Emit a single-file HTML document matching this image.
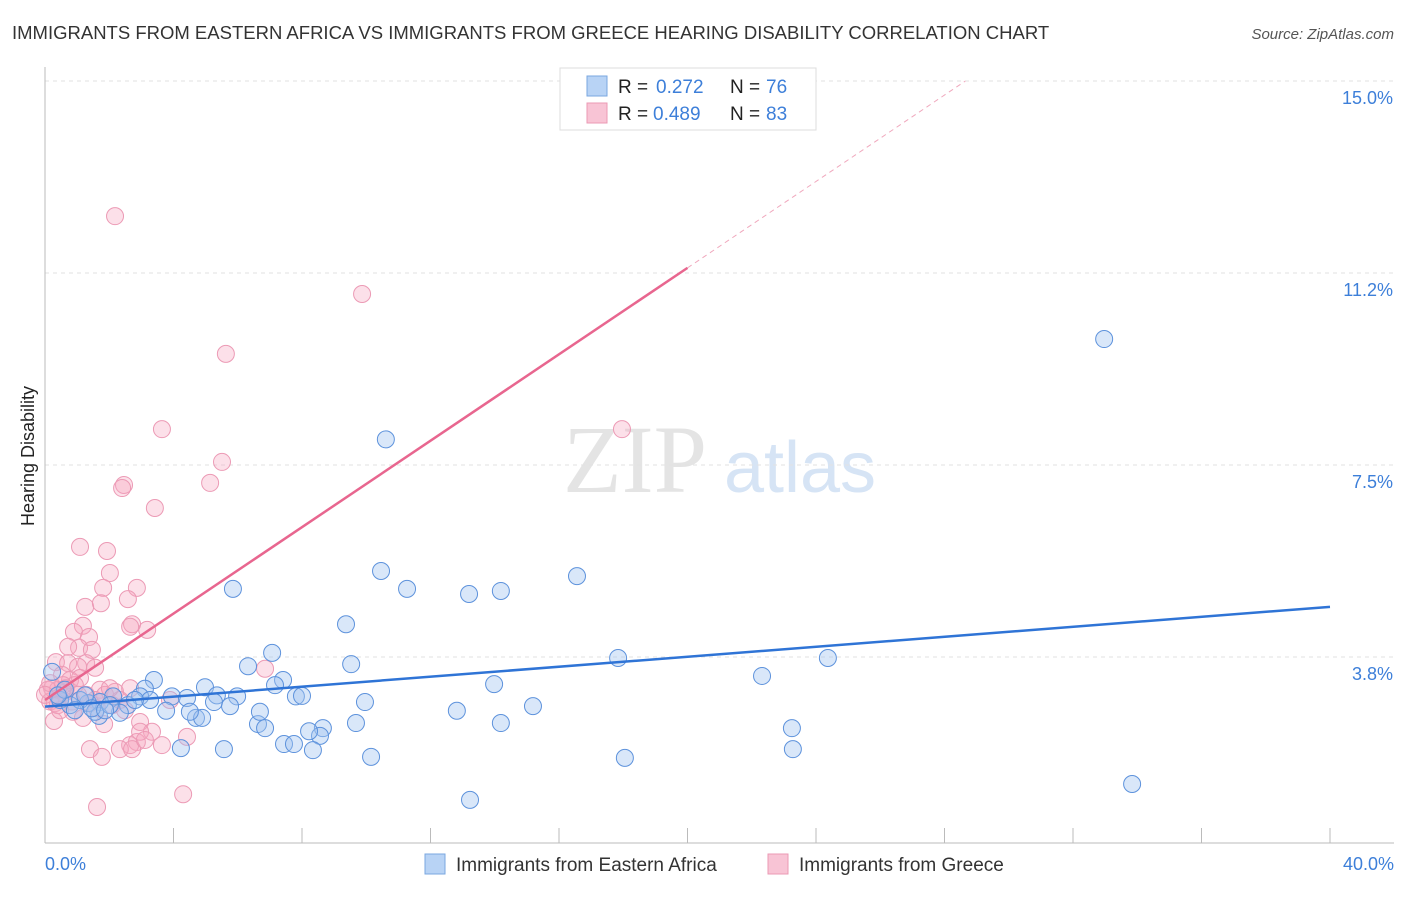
<!DOCTYPE html>
<html><head><meta charset="utf-8"><style>
body{margin:0;background:#fff;font-family:"Liberation Sans",sans-serif;}
</style></head><body>
<svg id="chart" width="1406" height="892" xmlns="http://www.w3.org/2000/svg">
<text x="12" y="39" font-size="18.5" fill="#333">IMMIGRANTS FROM EASTERN AFRICA VS IMMIGRANTS FROM GREECE HEARING DISABILITY CORRELATION CHART</text>
<text x="1394" y="39" font-size="15" fill="#555" font-style="italic" text-anchor="end">Source: ZipAtlas.com</text>
<text x="635" y="492" font-size="96" fill="#e4e4e4" font-family="Liberation Serif" text-anchor="middle">ZIP</text>
<text x="800" y="492" font-size="72" fill="#d6e4f5" text-anchor="middle">atlas</text>
<g id="grid"></g>
<g id="axes"></g>
<g id="marks"></g>
<text transform="translate(34,456) rotate(-90)" font-size="18" fill="#222" text-anchor="middle">Hearing Disability</text>
<text x="45" y="870" font-size="18" fill="#3d7fd9">0.0%</text>
<text x="1394" y="870" font-size="18" fill="#3d7fd9" text-anchor="end">40.0%</text>
<g>
<rect x="560" y="68" width="256" height="62" fill="#fff" stroke="#ddd"/>
<rect x="587" y="76" width="20" height="20" fill="#b8d3f5" stroke="#7aa7e0"/>
<text x="618" y="93" font-size="19" fill="#222">R =</text><text x="656" y="93" font-size="19" fill="#3d7fd9">0.272</text>
<text x="730" y="93" font-size="19" fill="#222">N =</text><text x="766" y="93" font-size="19" fill="#3d7fd9">76</text>
<rect x="587" y="103" width="20" height="20" fill="#f8c4d5" stroke="#eb9ab4"/>
<text x="618" y="120" font-size="19" fill="#222">R =</text><text x="653" y="120" font-size="19" fill="#3d7fd9">0.489</text>
<text x="730" y="120" font-size="19" fill="#222">N =</text><text x="766" y="120" font-size="19" fill="#3d7fd9">83</text>
</g>
<g>
<rect x="425" y="854" width="20" height="20" fill="#b8d3f5" stroke="#7aa7e0"/>
<text x="456" y="871" font-size="19" fill="#333">Immigrants from Eastern Africa</text>
<rect x="768" y="854" width="20" height="20" fill="#f8c4d5" stroke="#eb9ab4"/>
<text x="799" y="871" font-size="19" fill="#333">Immigrants from Greece</text>
</g>
</svg>
<script>
const yTicks=[15.0,11.2,7.5,3.8];
const yTickVals=[15,11.25,7.5,3.75];
const blueX=[32.97,10.61,10.46,16.56,5.85,11.27,13.20,14.19,9.37,7.07,17.84,24.37,6.32,9.53,3.39,7.41,22.32,13.98,3.11,4.98,7.16,3.95,4.42,5.35,5.98,7.81,8.0,2.96,2.12,1.71,2.58,1.34,9.96,15.19,5.26,5.76,3.77,4.70,4.89,12.82,2.33,1.68,6.63,6.85,9.68,14.19,23.25,8.65,8.56,8.22,7.44,7.75,8.34,4.23,5.57,23.28,10.15,18.05,33.84,13.23,0.47,0.78,1.09,1.56,0.22,0.62,1.25,0.93,3.27,4.51,2.80,2.02,6.69,0.40,1.46,1.87];
const blueY=[9.96,8.0,5.43,5.33,5.08,5.08,4.98,5.04,4.39,3.83,3.73,3.73,3.57,3.61,3.30,3.30,3.38,3.22,3.13,3.16,3.20,2.98,2.95,3.0,2.98,2.98,2.99,2.98,2.98,2.87,2.81,2.85,2.87,2.79,2.87,2.79,2.70,2.56,2.56,2.70,2.66,2.60,2.44,2.36,2.46,2.46,2.36,2.36,2.21,2.30,2.05,2.05,1.93,1.97,1.95,1.95,1.80,1.78,1.27,0.96,2.91,2.81,2.91,2.68,3.46,3.11,3.0,2.71,2.91,2.68,2.91,2.81,2.68,3.0,2.75,2.71];
const pinkX=[2.18,9.87,5.63,3.64,17.96,5.51,2.46,5.14,2.40,3.42,1.09,1.93,2.02,1.81,2.86,2.58,1.25,1.74,2.71,2.65,3.18,1.18,0.90,1.37,1.06,1.46,0.72,0.34,0.72,1.28,1.56,1.03,6.85,0.53,0.78,1.09,0.93,0.22,0.40,0.59,1.71,1.87,2.18,2.65,0.16,0.31,0.47,0.84,1.40,1.62,2.09,2.33,0.87,1.18,1.84,2.96,3.33,2.86,2.65,2.33,1.40,1.77,2.71,4.42,0.28,1.62,4.30,0.56,0.09,0.65,0.40,0.16,0,1.03,2.02,1.28,1.56,0.47,2.49,2.96,3.11,3.64,3.89];
const pinkY=[12.36,10.84,9.67,8.20,8.20,7.56,7.11,7.15,7.05,6.66,5.90,5.82,5.39,5.10,5.10,4.88,4.73,4.80,4.39,4.34,4.28,4.36,4.24,4.14,3.93,3.89,3.95,3.65,3.63,3.63,3.54,3.56,3.52,3.40,3.30,3.34,3.20,3.14,3.11,3.05,3.11,3.01,3.07,3.14,2.88,2.85,2.94,2.88,2.85,2.75,2.81,2.91,2.68,2.56,2.44,2.48,2.29,2.09,2.03,1.95,1.95,1.80,1.95,2.19,2.50,0.82,1.07,3.20,3.11,3.14,2.81,3.24,3.01,3.01,3.14,3.01,2.91,2.71,2.71,2.29,2.13,2.03,2.91];
const blueLine=[[0,2.78],[40,4.73]];
const pinkLineSolid=[[0,2.91],[20,11.35]];
const pinkLineDash=[[20,11.35],[28.65,15]];
const xTicks=[0,4,8,12,16,20,24,28,32,36,40];

const NS='http://www.w3.org/2000/svg';
const X=v=>45+v*32.125;
const Y=v=>81+(15-v)*51.2;
function mk(tag,attrs,parent){const e=document.createElementNS(NS,tag);for(const k in attrs)e.setAttribute(k,attrs[k]);parent.appendChild(e);return e;}
const grid=document.getElementById('grid'),axes=document.getElementById('axes'),marks=document.getElementById('marks');
yTickVals.forEach((v,i)=>{
 const l=mk('line',{x1:45,x2:1394,y1:Y(v),y2:Y(v),stroke:'#e2e2e2','stroke-dasharray':'4,4'},grid);
 
 
 const t=mk('text',{x:1393,y:Y(v)+23,'font-size':18,fill:'#3d7fd9','text-anchor':'end'},grid);
 t.textContent=yTicks[i].toFixed(1)+'%';
 
 
});
const ya=mk('line',{x1:45,x2:45,y1:67,y2:843,stroke:'#bbb'},axes);


const xa=mk('line',{x1:45,x2:1394,y1:843,y2:843,stroke:'#bbb'},axes);


xTicks.forEach(v=>{
 const t=mk('line',{x1:X(v),x2:X(v),y1:828,y2:843,stroke:'#bbb'},axes);
 
 
});
pinkX.forEach((v,i)=>{
 const c=mk('circle',{cx:X(v),cy:Y(pinkY[i]),r:8.5,fill:'rgba(245,165,192,0.35)',stroke:'#ec9ab5','stroke-width':1},marks);
 
 
});
blueX.forEach((v,i)=>{
 const c=mk('circle',{cx:X(v),cy:Y(blueY[i]),r:8.5,fill:'rgba(160,196,240,0.4)',stroke:'#5d92dc','stroke-width':1},marks);
 
 
});
const bl=mk('line',{x1:X(blueLine[0][0]),y1:Y(blueLine[0][1]),x2:X(blueLine[1][0]),y2:Y(blueLine[1][1]),stroke:'#2f74d6','stroke-width':2.5},marks);


const pl=mk('line',{x1:X(pinkLineSolid[0][0]),y1:Y(pinkLineSolid[0][1]),x2:X(pinkLineSolid[1][0]),y2:Y(pinkLineSolid[1][1]),stroke:'#e8668f','stroke-width':2.5},marks);


const pd=mk('line',{x1:X(pinkLineDash[0][0]),y1:Y(pinkLineDash[0][1]),x2:X(pinkLineDash[1][0]),y2:Y(pinkLineDash[1][1]),stroke:'#f0a8bd','stroke-width':1,'stroke-dasharray':'5,4'},marks);


</script>
</body></html>
